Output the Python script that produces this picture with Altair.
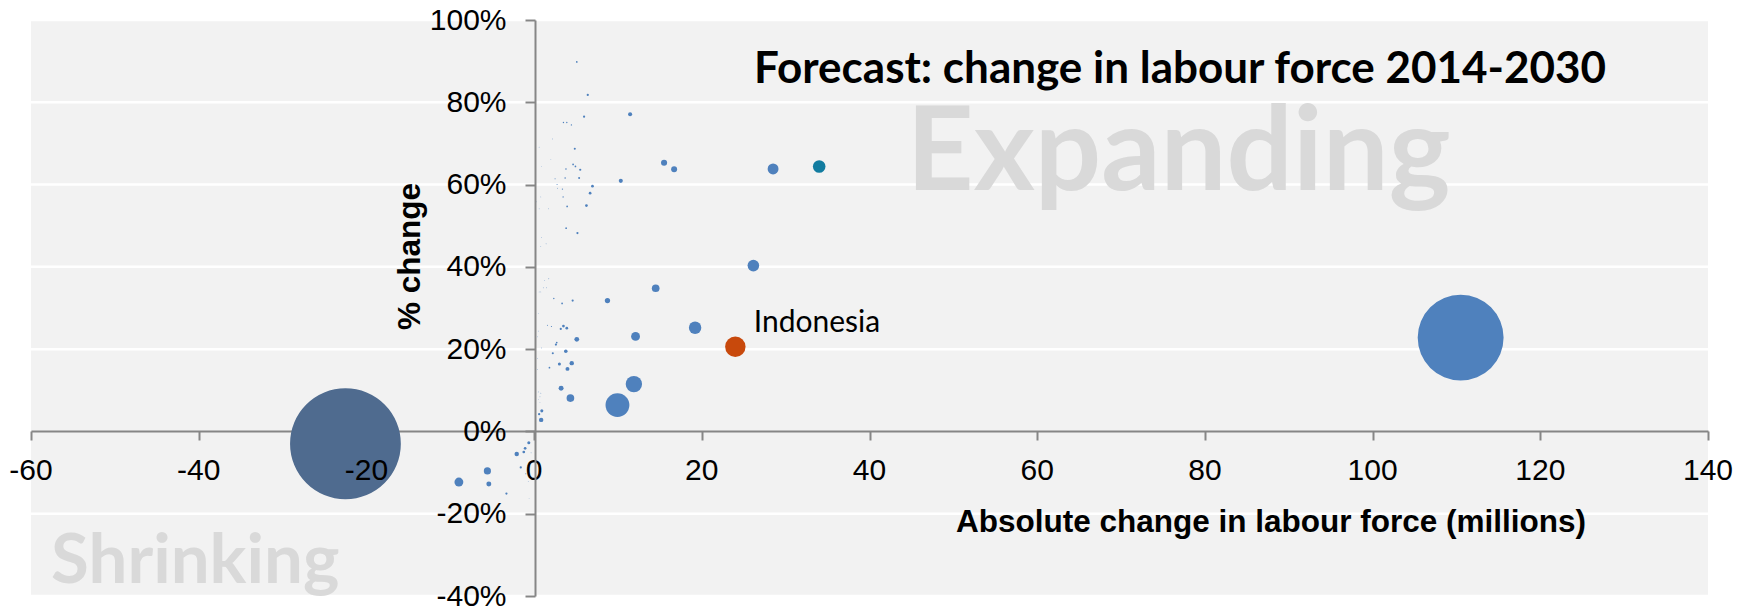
import altair as alt
import pandas as pd

# ---- data ----
abs_change = [-22.5, 110.5, 24.0, 34.0, 28.5, 26.15, 19.2, 9.94, 11.9, 12.1, 14.5, 15.5, 16.7, 11.45, 10.34, 8.75,
              -8.97, -5.57, -5.4, -3.3, -2.07, -1.59, -1.23, -1.07, -0.63, -0.99, -0.36, -0.7, -0.6,
              0.84, 0.6, 0.92, 4.33, 3.22, 3.98, 4.49, 3.02, 1.83, 3.78, 2.23, 2.6, 2.7, 5.09, 3.5, 3.9, 3.18,
              1.59, 2.07, 2.35, 3.34, 4.6, 1.75, 1.27, 1.1, 1.47, 1.43, 5.17, 3.82, 1.7, 3.94, 6.24, 3.46,
              6.68, 3.38, 2.8, 6.96, 2.74, 2.5, 3.7, 5.37, 3.8, 5.5, 4.93, 4.65, 4.85, 2.2, 4.45, 3.5, 3.9,
              5.96, 6.4, 5.09,
              0.6, 2.0, 0.87, 0.8, 0.3, 0.6, 0.9, 0.8, 0.6, 0.8, 0.5, 0.5, 0.4, 0.88, 0.4, 0.4, 0.5, 0.8,
              0.7, 0.5, 0.7]
pct_change = [-3.0, 22.8, 20.6, 64.4, 63.8, 40.3, 25.2, 6.4, 11.5, 23.1, 34.8, 65.3, 63.7, 77.1, 60.9, 31.8,
              -12.3, -9.6, -12.8, -15.1, -5.5, -8.75, -5.0, -4.1, -2.75, -10.3, -5.2, -12.2, -16.3,
              2.8, 4.2, 5.0, 8.1, 10.5, 15.2, 16.6, 16.4, 15.5, 19.5, 19.0, 21.1, 21.6, 22.4, 25.6, 25.1, 24.9,
              25.8, 25.5, 32.3, 31.1, 31.8, 37.1, 36.7, 34.9, 34.9, 45.6, 48.2, 49.4, 54.1, 54.7, 54.9, 57.0,
              57.9, 58.9, 59.1, 59.6, 60.0, 61.4, 61.6, 61.6, 63.8, 63.6, 64.4, 64.9, 68.7, 71.1, 74.5, 75.1,
              75.1, 76.5, 81.8, 89.8,
              69.1, 66.1, 64.4, 57.0, 55.8, 54.1, 47.1, 45.0, 33.9, 33.9, 28.6, 24.4, 23.0, 20.3, 17.7, 15.0,
              9.6, 9.3, 8.4, 7.7, 7.1]
labour_force = [650, 504, 120, 74, 64, 68, 73, 140, 96, 52, 45, 36, 35, 24, 24, 31,
                52, 42, 29, 13, 26, 13, 16, 16, 18, 6, 5, 4, 4,
                26, 13, 18, 45, 29, 23, 26, 18, 10, 21, 12, 13, 10, 28, 16, 16, 13,
                6, 7, 8, 10, 13, 5, 4, 5, 5, 5, 13, 10, 5, 10, 16, 8,
                16, 8, 5, 16, 6, 6, 9, 12, 9, 13, 10, 10, 12, 5, 8, 8,
                8, 13, 13, 10,
                4, 4, 4, 4, 4, 4, 4, 4, 4, 4, 4, 4, 4, 5, 4, 4, 5, 5, 5, 4, 4]
group = ["China", "Other", "Indonesia", "Highlight"] + ["Other"] * (len(abs_change) - 4)

x_ticks = [-60, -40, -20, 0, 20, 40, 60, 80, 100, 120, 140]
y_ticks = [-40, -20, 0, 20, 40, 60, 80, 100]

group_names = ["Other", "China", "Indonesia", "Highlight"]
group_colors = ["#4f81bd", "#4f6b8f", "#c8490c", "#127ca0"]

x_title_text = "Absolute change in labour force (millions)"
y_title_text = "% change"
chart_title_text = "Forecast: change in labour force 2014-2030"

FONT = "Liberation Sans"
ANNO_FONT = "Lato"
AXIS_GREY = "#868686"

df = pd.DataFrame({"abs": abs_change, "pct": pct_change, "lf": labour_force, "group": group})
xt = pd.DataFrame({"v": x_ticks, "zero": [0] * len(x_ticks), "lab": [str(v) for v in x_ticks]})
grid_df = pd.DataFrame({"g": [v for v in y_ticks if v != 0]})

xs = alt.Scale(domain=[-60, 140], nice=False, zero=False)
ys = alt.Scale(domain=[-40, 100], nice=False, zero=False)

x_axis = alt.Axis(
    values=x_ticks, labels=False, grid=False, zindex=0, title=None,
    domainColor=AXIS_GREY, domainWidth=2, tickColor=AXIS_GREY, tickWidth=2, tickSize=9,
    offset=-165,
)
y_axis = alt.Axis(
    values=y_ticks, labelExpr="datum.value + '%'", labelOverlap=False, grid=False, zindex=1,
    domainColor=AXIS_GREY, domainWidth=2, tickColor=AXIS_GREY, tickWidth=2, tickSize=10,
    labelFont=FONT, labelFontSize=30, labelColor="black", labelPadding=19,
    offset=-504,
    title=y_title_text, titleFont=FONT, titleFontSize=31.5, titleFontWeight="bold", titleColor="black",
    titleX=-125, titleY=236, titleAngle=270, titleAlign="center", titleBaseline="middle",
)


def X(field):
    return alt.X(field, scale=xs, axis=x_axis)


def Y(field):
    return alt.Y(field, scale=ys, axis=y_axis)


def anno(text, x, y, **kw):
    d = pd.DataFrame({"t": [text], "x": [x], "y": [y]})
    return alt.Chart(d).mark_text(align="left", baseline="alphabetic", **kw).encode(
        x=X("x:Q"), y=Y("y:Q"), text="t:N",
    )


gridlines = alt.Chart(grid_df).mark_rule(color="white", strokeWidth=2.5).encode(y=Y("g:Q"))

expanding = anno("Expanding", 44.4, 58.6, font=ANNO_FONT, fontSize=117, fontWeight="bold", color="#d9d9d9")
shrinking = anno("Shrinking", -57.6, -36.9, font=ANNO_FONT, fontSize=69, fontWeight="bold", color="#d9d9d9", clip=True)

points = alt.Chart(df).mark_circle(opacity=1, strokeWidth=0).encode(
    x=X("abs:Q"),
    y=Y("pct:Q"),
    size=alt.Size("lf:Q", scale=alt.Scale(type="pow", exponent=2, domain=[0, 650], range=[0, 12272]), legend=None),
    color=alt.Color("group:N", scale=alt.Scale(domain=group_names, range=group_colors), legend=None),
    order=alt.Order("lf:Q", sort="descending"),
)

xlab = alt.Chart(xt).mark_text(font=FONT, fontSize=30, color="black", align="center",
                               baseline="alphabetic", dy=49).encode(
    x=X("v:Q"), y=Y("zero:Q"), text="lab:N",
)

x_title = alt.Chart(pd.DataFrame({"t": [x_title_text]})).mark_text(
    font=FONT, fontSize=31.5, fontWeight="bold", color="black", align="center", baseline="alphabetic"
).encode(x=alt.value(1240), y=alt.value(512), text="t:N")

title = anno(chart_title_text, 26.24, 84.6,
             font=ANNO_FONT, fontSize=44, fontWeight="bold", color="black")
indo = anno("Indonesia", 26.2, 24.1, font=ANNO_FONT, fontSize=30, color="black")

chart = alt.layer(gridlines, expanding, shrinking, points, xlab, x_title, title, indo).properties(
    width=1677, height=576,
    autosize=alt.AutoSizeParams(type="none"),
    padding={"left": 23, "top": 12, "right": 26, "bottom": 14},
    background="white",
).configure_view(fill="#f2f2f2", strokeWidth=0)

chart.save("out.html", embed_options={"renderer": "svg", "actions": False})
